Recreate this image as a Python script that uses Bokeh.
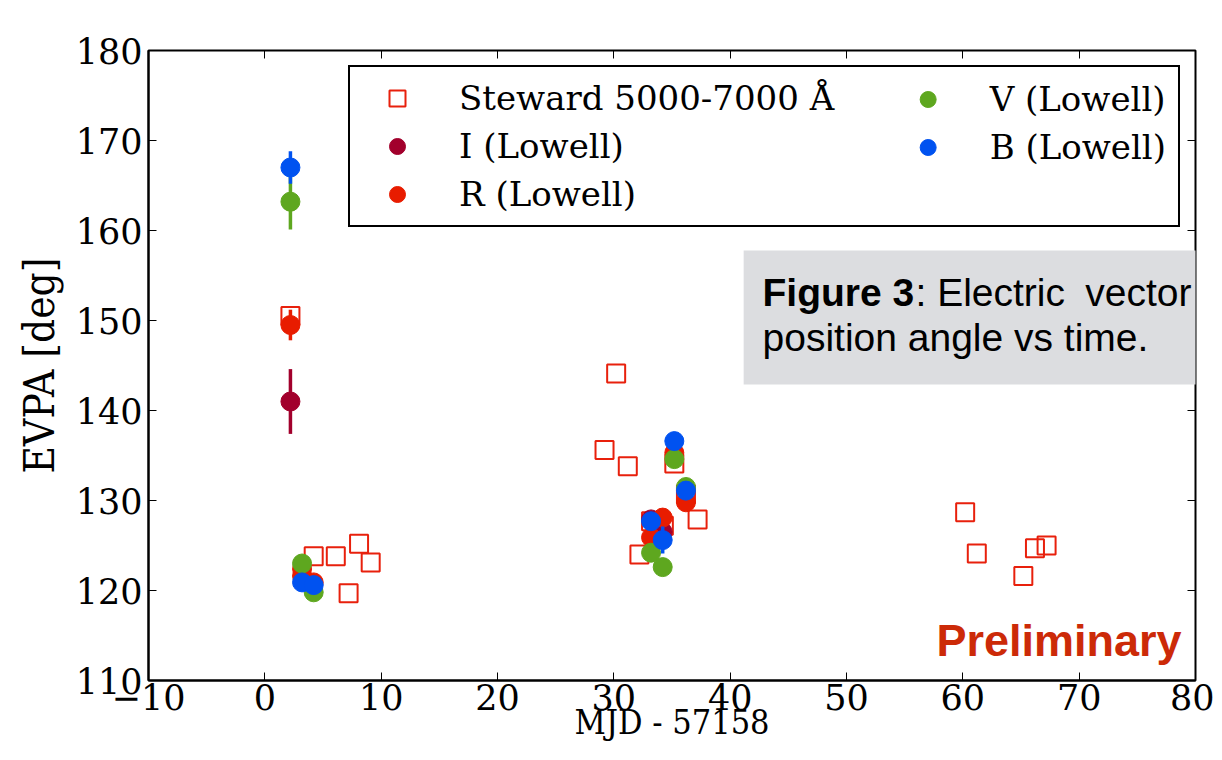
from bokeh.plotting import figure
from bokeh.models import (LinearAxis, Label, Legend, LegendItem, ColumnDataSource,
                          FixedTicker, Range1d, BoxAnnotation)
from bokeh.embed import file_html
from bokeh.resources import INLINE

# ---------------- data ----------------
steward_x = [2.2, 4.2, 6.1, 8.1, 9.1, 7.2, 29.2, 30.2, 31.2, 32.2, 33.2, 34.3,
             35.2, 36.2, 37.2, 60.2, 61.2, 65.2, 66.2, 67.2]
steward_y = [150.5, 123.8, 123.8, 125.2, 123.1, 119.7, 135.6, 144.1, 133.8, 124.0,
             127.7, 127.2, 134.1, 130.7, 127.9, 128.7, 124.1, 121.6, 124.7, 125.0]

i_x = [2.2, 33.2, 34.2]
i_y = [141.0, 127.9, 126.5]
i_err = [3.6, 0.6, 0.6]

r_x = [2.2, 3.2, 3.2, 4.2, 33.2, 34.2, 35.2, 36.2]
r_y = [149.5, 122.4, 121.6, 120.9, 125.9, 128.1, 135.3, 129.8]
r_err = [1.7, 0.6, 0.6, 0.6, 0.6, 0.6, 0.6, 0.6]

v_x = [2.2, 3.2, 4.2, 33.2, 34.2, 35.2, 36.2]
v_y = [163.2, 123.0, 119.8, 124.2, 122.6, 134.6, 131.5]
v_err = [3.1, 0.6, 0.6, 0.6, 0.6, 0.6, 0.6]

b_x = [2.2, 3.2, 4.2, 33.2, 34.2, 35.2, 36.2]
b_y = [167.0, 120.9, 120.6, 127.7, 125.6, 136.6, 131.1]
b_err = [1.8, 0.5, 0.5, 0.6, 1.5, 0.5, 0.5]

x_ticks = [-10, 0, 10, 20, 30, 40, 50, 60, 70, 80]
y_ticks = [110, 120, 130, 140, 150, 160, 170, 180]

series = [
    ("I (Lowell)", i_x, i_y, i_err, "#a2002c"),
    ("R (Lowell)", r_x, r_y, r_err, "#e81c00"),
    ("V (Lowell)", v_x, v_y, v_err, "#5ea71f"),
    ("B (Lowell)", b_x, b_y, b_err, "#0052f0"),
]

SERIF = "DejaVu Serif"
COND = "'DejaVu Serif Condensed', 'DejaVu Serif'"
SANS = "'Liberation Sans', Arial, sans-serif"

p = figure(width=1214, height=752, output_backend="svg", toolbar_location=None,
           x_range=Range1d(-10, 80), y_range=Range1d(110, 180),
           min_border_left=148, min_border_right=19, min_border_top=50,
           min_border_bottom=72)
p.background_fill_color = "white"
p.border_fill_color = "white"
p.grid.visible = False
p.outline_line_color = "black"
p.outline_line_width = 2
p.outline_line_alpha = 1

for ax in (p.xaxis[0], p.yaxis[0]):
    ax.axis_line_width = 2
    ax.axis_line_color = "black"
    ax.major_tick_in = 8
    ax.major_tick_out = 0
    ax.major_tick_line_width = 1
    ax.major_tick_line_color = "black"
    ax.minor_tick_line_color = None
    ax.major_label_text_font = SERIF
    ax.major_label_text_font_size = "35px"
    ax.major_label_text_color = "black"

p.xaxis.major_label_standoff = 3
p.yaxis.major_label_standoff = 6
p.xaxis.ticker = FixedTicker(ticks=x_ticks)
p.yaxis.ticker = FixedTicker(ticks=y_ticks)
p.xaxis.major_label_overrides = {-10: "\u221210"}

p.yaxis.axis_label = "EVPA [deg]"
p.yaxis.axis_label_text_font = COND
p.yaxis.axis_label_text_font_style = "normal"
p.yaxis.axis_label_text_font_size = "42px"
p.yaxis.axis_label_text_color = "black"
p.yaxis.axis_label_standoff = 9

p.xaxis.axis_label = "MJD - 57158"
p.xaxis.axis_label_text_font = COND
p.xaxis.axis_label_text_font_style = "normal"
p.xaxis.axis_label_text_font_size = "34px"
p.xaxis.axis_label_text_color = "black"
p.xaxis.axis_label_standoff = -11

# mirror ticks on top / right (no labels)
top_ax = LinearAxis(ticker=FixedTicker(ticks=x_ticks), major_tick_in=8, major_tick_out=0,
                    major_tick_line_color="black",
                    minor_tick_line_color=None, axis_line_color=None,
                    major_label_overrides={t: "" for t in x_ticks},
                    major_label_text_font_size="1px", major_label_standoff=0)
right_ax = LinearAxis(ticker=FixedTicker(ticks=y_ticks), major_tick_in=8, major_tick_out=0,
                      major_tick_line_color="black",
                      minor_tick_line_color=None, axis_line_color=None,
                      major_label_overrides={t: "" for t in y_ticks},
                      major_label_text_font_size="1px", major_label_standoff=0)
p.add_layout(top_ax, "above")
p.add_layout(right_ax, "right")

# Steward squares
st_src = ColumnDataSource(dict(x=steward_x, y=steward_y))
r_st = p.scatter("x", "y", source=st_src, marker="square", size=18,
                 fill_color=None, line_color="#e8200c", line_width=2)

left_items = [LegendItem(label="Steward 5000-7000 \u00c5", renderers=[r_st])]
right_items = []
for name, xs, ys, es, col in series:
    src = ColumnDataSource(dict(x=xs, y=ys,
                                lo=[y - e for y, e in zip(ys, es)],
                                hi=[y + e for y, e in zip(ys, es)]))
    p.segment(x0="x", y0="lo", x1="x", y1="hi", source=src, line_color=col, line_width=3.5)
    r = p.scatter("x", "y", source=src, marker="circle", size=19,
                  fill_color=col, line_color=col, line_width=1)
    item = LegendItem(label=name, renderers=[r])
    (left_items if name[0] in "IR" else right_items).append(item)

common = dict(location="top_right", label_text_font=SERIF, label_text_font_size="34px",
              label_text_color="black", glyph_width=72, glyph_height=40, label_height=40,
              label_standoff=26, spacing=8, padding=11)
legend1 = Legend(items=left_items, border_line_color="black", border_line_width=2,
                 border_line_alpha=1, background_fill_color="white",
                 background_fill_alpha=1, label_width=708, margin=15, **common)
# second column of the same legend box (no border -> padding collapses)
legend2 = Legend(items=right_items, border_line_color=None,
                 background_fill_alpha=0, margin=29, **common)
p.add_layout(legend1)
p.add_layout(legend2)

# caption box
p.add_layout(BoxAnnotation(left=41.16, right=85, top=157.78, bottom=142.89,
                           fill_color="#dcdde0", fill_alpha=1, line_color=None))
p.add_layout(Label(x=42.78, y=153.14, text="Figure 3", text_baseline="middle",
                   text_font=SANS, text_font_style="bold",
                   text_font_size="39px", text_color="black"))
p.add_layout(Label(x=55.93, y=153.14, text=": Electric", text_baseline="middle",
                   text_font=SANS, text_font_size="39px", text_color="black"))
p.add_layout(Label(x=79.66, y=153.14, text="vector", text_baseline="middle",
                   text_align="right",
                   text_font=SANS, text_font_size="39px", text_color="black"))
p.add_layout(Label(x=42.78, y=148.14, text="position angle vs time.",
                   text_baseline="middle", text_font=SANS,
                   text_font_size="39px", text_color="black"))

p.add_layout(Label(x=78.8, y=114.5, text="Preliminary", text_align="right",
                   text_baseline="middle", text_font=SANS,
                   text_font_style="bold", text_font_size="45px", text_color="#cc2a08"))

open("out.html", "w").write(file_html(p, INLINE))
